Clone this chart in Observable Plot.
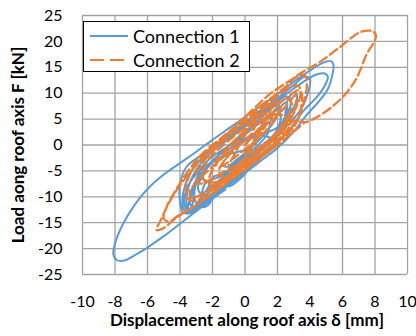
<!DOCTYPE html>
<html>
<head>
<meta charset="utf-8">
<script src="https://cdn.jsdelivr.net/npm/d3@7"></script>
<script src="https://cdn.jsdelivr.net/npm/@observablehq/plot@0.6"></script>
<style>
  body { margin: 0; background: #fff; }
  #wrap { position: relative; width: 416px; height: 336px; font-family: Lato, "Open Sans", sans-serif; }
  #legend {
    position: absolute; left: 83px; top: 21px; width: 167px; height: 51px;
    border: 1.3px solid #000; background: #fff; box-sizing: border-box;
    padding: 2px 0 0 6px; font-size: 18px; color: #000;
  }
  #legend .row { display: flex; align-items: center; height: 24px; }
  #legend svg { margin-right: 5px; }
</style>
</head>
<body>
<div id="wrap"></div>
<script>
// Load–displacement hysteresis of the two roof connections, [δ mm, F kN]
const conn1 = [
  [0,0],[0.6,2.2],[1.1,4.2],[0.8,4.4],[0.2,2.6],[-0.4,0.4],[-1,-2],[-1.4,-3.8],[-1.1,-4.2],[-0.5,-2.8],[0.2,-1],
  [1,1.4],[1.8,4.6],[2.2,7.2],[1.9,7.6],[1.2,5.8],[0.3,3.4],[-0.6,1],[-1.6,-1.8],[-2.4,-4.8],[-2.9,-8.2],[-2.7,-9.4],[-2.2,-8.4],[-1.2,-5.8],[0,-2.8],
  [1,-0.4],[1.9,2.4],[2.6,5.8],[2.8,8.8],[2.5,9.4],[1.8,7.8],[0.8,5.4],[-0.4,2.6],[-1.6,-0.2],[-2.6,-3],[-3.3,-6.6],[-3.6,-10.4],[-3.5,-12.4],[-3.1,-12.2],[-2.6,-10.2],[-1.6,-7.6],[-0.4,-4.6],[0.8,-1.6],
  [1.8,1.2],[2.4,3.6],[2.6,6.4],[2.5,8.2],[2.2,7.4],[1.4,5.4],[0.4,3],[-0.6,0.6],[-1.8,-1.8],[-2.6,-4],[-3,-7],[-3.1,-10.2],[-2.9,-11.4],[-2.5,-10.8],[-2.2,-8.2],[-2,-6.2],[-1.4,-5.6],[-0.2,-3.4],[1,-0.8],
  [-0.8,-1.6],[-2,-3.2],[-3,-5.6],[-3.6,-8.6],[-3.7,-11.8],[-3.4,-12.8],[-3.2,-11],[-3.1,-8],[-2.8,-6.6],[-2.2,-7.4],[-2.6,-10],[-2.6,-12],[-2.2,-11.4],[-1.8,-8.6],[-1.2,-6.2],[0,-3.6],[1,-1],[1.8,2],[2.2,5.2],[2,7.2],[1.6,5],[1.4,2.2],[1,0.6],[0.2,-1.6],[-0.8,-4],[-1.2,-6.6],[-1,-8],[-0.4,-6.8],[0.2,-4.8],[0.6,-2.4],[1.2,0.4],
  [1.8,1.2],[2.8,4.4],[3.5,7.2],[3.9,10.4],[4,12.8],[3.7,13.2],[3,11.6],[2,9],[1,6.8],[0,4.4],[-1,2],[-2,-0.6],[-2.8,-3],[-3.4,-5.6],[-3.8,-9.2],[-3.8,-12.2],[-3.5,-13],[-3,-12.4],[-2.4,-10.6],[-1.4,-8.4],[-0.2,-5.4],[1,-2.4],[2,0.4],
  [1.4,1.6],[0.4,1.8],[-0.8,-0.4],[-1.8,-2.4],[-2.6,-5],[-3.2,-8],[-3.4,-11],[-3.2,-12],[-2.8,-10.6],[-2.4,-7.2],[-1.6,-6.2],[-0.6,-3.8],[0.6,-1.2],[1.6,1.4],[2.4,4.2],[3,7.2],[3.2,9.6],[3,10.2],[2.6,8.4],[2.4,5],[2,3.4],
  [1,2],[0,0.8],[-1,-1.4],[-2,-3.4],[-2.8,-6.4],[-3.3,-9.8],[-3.5,-12],[-3.3,-12.6],[-2.9,-11.8],[-2,-9.6],[-0.8,-6.6],[0.4,-3.8],[1.6,-0.6],[2.6,2.4],
  [3.6,6.6],[4.4,9.2],[4.9,11.4],[5.1,13.2],[4.9,13.8],[4.4,13.6],[3.6,12.2],[2.6,10],[1.6,7.8],[0.6,5.4],[-0.4,3],[-1.4,0.8],[-2.6,-1.8],[-3.6,-4.2],[-4,-7.6],[-4,-11],[-3.8,-13],[-3.4,-13.2],[-2.4,-11],[-1.2,-8.2],[0,-5.4],
  [1,-3],[2,-0.6],[3,2.6],[3.8,5.8],[4.6,8.6],[5.1,10.8],[5.35,13.2],[5.45,15.4],[5.3,16.2],[4.9,16],[4.2,14.8],[3,12.2],[2,9.8],[1,7.6],[0,5.4],[-1,3.2],[-2,1],[-3,-1.3],[-4,-3.5],[-5,-5.7],[-6,-8.5],[-6.8,-11.6],[-7.5,-15.2],[-8,-19],[-8.1,-21.2],[-7.9,-22.2],[-7.4,-22.3],[-6.8,-21.3],[-6,-19.8],[-5,-17.6],[-4,-15.2],[-3,-12.8],[-2,-10.4],[-1.2,-8.6]
];

const conn2 = [
  [0,0],[0.8,3],[1.4,5.6],[1.2,6],[0.4,4],[-0.4,1.6],[-1.2,-1],[-1.8,-3.4],[-1.6,-4.2],[-0.8,-2.8],[0,-0.8],
  [1,1.8],[1.8,4.8],[2.2,7.6],[2,8.4],[1.2,7],[0.2,4.8],[-0.8,2.2],[-1.8,-0.6],[-2.6,-3.4],[-3,-6],[-2.8,-7.4],[-2.2,-6.8],[-1.2,-5],[0,-2.6],
  [0.6,1.2],[1.2,4],[1.6,7.2],[1.4,8],[0.8,5],[0.4,2.2],[-0.2,0.4],[-1,-2],[-1.6,-5],[-1.2,-6.6],[-0.6,-4.4],[0,-2.2],[0.6,0.6],[1,3.6],[0.8,5.6],[0.2,4],[-0.2,1],[-0.6,-1.6],[-1,-4.2],[-0.8,-5.6],[-0.2,-3.8],[0.8,-1],[1.8,2],[2.6,5.2],[2.9,7.8],[2.6,9],[2,7.6],[1.4,4.4],[0.8,1.4],[0,-1.6],
  [1.2,0.2],[2.2,3],[3,6.4],[3.4,9.6],[3.3,11.4],[2.8,11.2],[1.8,9],[0.8,6.6],[-0.4,3.8],[-1.4,1.2],[-2.4,-1.4],[-3.2,-4.4],[-3.6,-7.8],[-3.5,-10.4],[-3,-10.8],[-2.2,-9],[-1,-6.4],[0.2,-3.6],[1.4,-0.8],[2.4,1.8],
  [3.2,4.8],[3.6,8],[3.8,11.2],[3.7,13.4],[3.2,13.2],[2.4,11],[1.4,8.6],[0.4,6.2],[-0.6,3.6],[-1.6,1],[-2.6,-1.6],[-3.4,-4.6],[-4.2,-8.4],[-4.8,-11.8],[-5,-14.2],[-4.7,-14.8],[-4,-13.4],[-3,-11.6],[-2,-9.2],[-1,-6.8],[0,-4.4],[1,-2],[2,0.6],[3,3.4],
  [3.4,6.6],[3.5,9.8],[3.3,10.6],[2.6,9.2],[1.6,7],[0.6,4.8],[-0.4,2.4],[-1.4,-0.2],[-2.2,-2.6],[-2.6,-5.4],[-2.4,-7.4],[-1.8,-7.8],[-0.8,-5.8],[0.4,-3],[1.4,-0.6],[2.2,1.6],[2.8,4],
  [2.4,5.6],[1.6,5.8],[0.4,3.2],[-0.6,0.4],[-1.4,-2.2],[-2,-4.8],[-2.2,-7],[-1.6,-7],[-0.6,-4.8],[0.6,-1.8],[1.8,1.6],[2.8,5],[3.2,8],[3.1,9.6],[2.8,8.6],[2.2,6.4],[1.2,3.6],
  [0.2,1.4],[-0.8,-1],[-1.8,-3.6],[-2.8,-6.6],[-3.4,-9],[-3.3,-10.2],[-2.6,-9.4],[-1.6,-7.2],[-0.4,-4.4],[0.8,-1.4],[2,1.6],[3,4.6],[3.7,4.4],
  [4.44,5.4],[5.44,7.6],[6.28,10.2],[6.9,13.1],[7.5,17.6],[8,20.2],[8.05,21.3],[7.8,22],[7.1,21.8],[5.8,18.8],[4.6,16],[3.7,14.4],[2.8,12.5],[1.6,10],[0.6,7.2],[-0.4,4.2],[-1.4,1.2],[-2.4,-1.8],[-3.3,-5],[-4,-7.8],[-4.7,-11.3],[-5.2,-14.6],[-5.45,-16.4],[-5.1,-16.2],[-4.2,-14],[-3.2,-12],[-2,-9.4],[-1,-7],[0,-4.8],[1,-2.4],[2,0],[3,2.6],[3.7,4.4]
];

const xTicks = [-10, -8, -6, -4, -2, 0, 2, 4, 6, 8, 10];
const yTicks = [-25, -20, -15, -10, -5, 0, 5, 10, 15, 20, 25];
const seriesNames = ["Connection 1", "Connection 2"];
const seriesColors = ["#5B9BD5", "#ED7D31"];
const xTitle = "Displacement along roof axis δ [mm]";
const yTitle = "Load aong roof axis F [kN]";

const gridStyle = {stroke: "#a3a3a3", strokeOpacity: 1, strokeWidth: 1.3};

const chart = Plot.plot({
  width: 416,
  height: 336,
  marginLeft: 82,
  marginRight: 9,
  marginTop: 15,
  marginBottom: 62,
  style: {fontFamily: "Lato, 'Open Sans', sans-serif", fontSize: "16px", color: "#000", background: "#fff"},
  x: {domain: [-10, 10], label: null},
  y: {domain: [-25, 25], label: null},
  marks: [
    Plot.gridX(xTicks, gridStyle),
    Plot.gridY(yTicks, gridStyle),
    Plot.axisX(xTicks, {tickSize: 0, tickPadding: 21, fontSize: 16, tickFormat: d => String(d), label: null}),
    Plot.axisY(yTicks, {tickSize: 0, tickPadding: 20, fontSize: 16, tickFormat: d => String(d), label: null}),
    Plot.line(conn1, {x: d => d[0], y: d => d[1], stroke: seriesColors[0], strokeWidth: 2, curve: "catmull-rom"}),
    Plot.line(conn2, {x: d => d[0], y: d => d[1], stroke: seriesColors[1], strokeWidth: 2.3, strokeDasharray: "9,4", curve: "catmull-rom"}),
    Plot.text([xTitle], {frameAnchor: "bottom", dy: 51, dx: 2, fontWeight: "bold", fontSize: 17}),
    Plot.text([yTitle], {frameAnchor: "left", dx: -64, rotate: -90, textAnchor: "middle", fontWeight: "bold", fontSize: 17})
  ]
});

const wrap = document.getElementById("wrap");
wrap.appendChild(chart);

// Legend box in the upper-left of the plot frame
const legend = document.createElement("div");
legend.id = "legend";
seriesNames.forEach((name, i) => {
  const row = document.createElement("div");
  row.className = "row";
  const dash = i === 1 ? 'stroke-dasharray="14,6"' : "";
  row.innerHTML = `<svg width="38" height="6"><line x1="0" y1="3" x2="38" y2="3" stroke="${seriesColors[i]}" stroke-width="2.2" ${dash}/></svg><span>${name}</span>`;
  legend.appendChild(row);
});
wrap.appendChild(legend);
</script>
</body>
</html>
